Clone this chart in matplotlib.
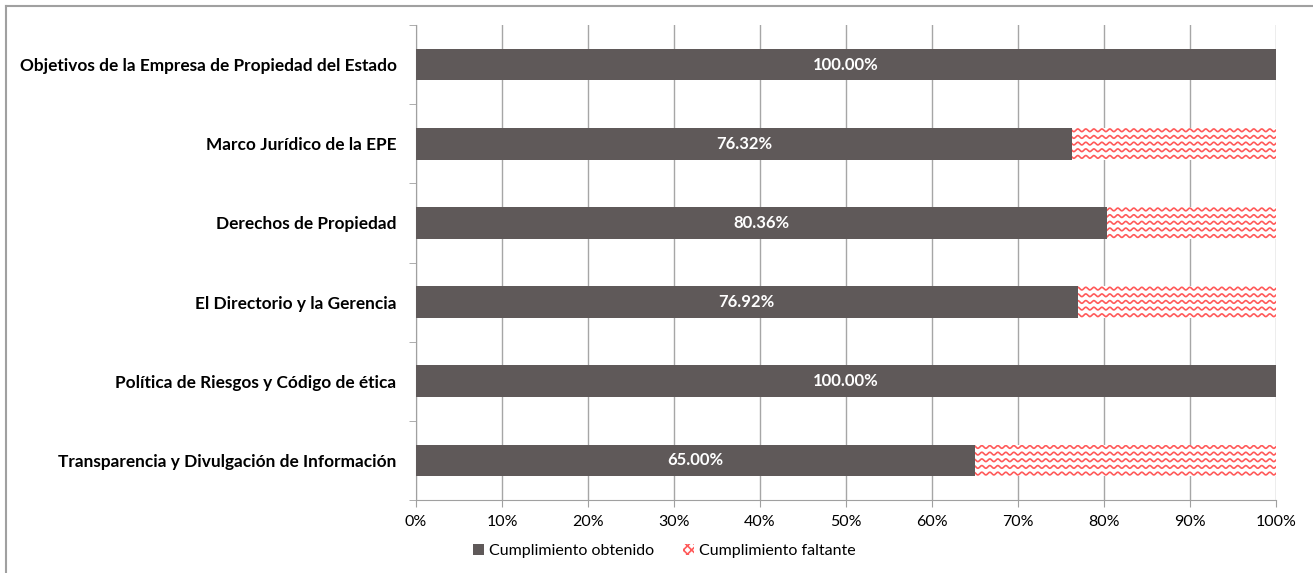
import numpy as np
import matplotlib.pyplot as plt
from matplotlib.lines import Line2D
from matplotlib.patches import Patch

# -------------------------------
# Data
# -------------------------------
categories = [
    'Objetivos de la Empresa de Propiedad del Estado',
    'Marco Jurídico de la EPE',
    'Derechos de Propiedad',
    'El Directorio y la Gerencia',
    'Política de Riesgos y Código de ética',
    'Transparencia y Divulgación de Información',
]
obtenido = [1.0, 0.7632, 0.8036, 0.7692, 1.0, 0.65]
faltante = [1 - v for v in obtenido]
labels = ['100.00%', '76.32%', '80.36%', '76.92%', '100.00%', '65.00%']

dark = '#5f5959'
red = '#ff5a5a'

plt.rcParams['font.family'] = ['Lato', 'DejaVu Sans']
plt.rcParams['hatch.color'] = red
plt.rcParams['hatch.linewidth'] = 1.2

fig = plt.figure(figsize=(13.13, 5.73), dpi=100)
ax = fig.add_axes([416 / 1313, 1 - 500 / 573, 860 / 1313, 475 / 573])

y = np.arange(len(categories))
bars1 = ax.barh(y, obtenido, height=0.4, color=dark, zorder=3)
bars2 = ax.barh(y, faltante, left=obtenido, height=0.4, color='white', zorder=3)

# wavy red pattern inside the missing part
xs = np.linspace(0, 1, 3000)
for b in bars2:
    if b.get_width() <= 0:
        continue
    y0 = b.get_y()
    for k in range(5):
        yy = y0 + 0.03 + k * 0.084 + 0.017 * np.sin(2 * np.pi * xs / 0.0093)
        ln, = ax.plot(xs, yy, color=red, lw=1.2, zorder=4)
        ln.set_clip_path(b)

for b, t in zip(bars1, labels):
    ax.text(b.get_width() / 2, b.get_y() + b.get_height() / 2, t,
            ha='center', va='center', color='white', fontsize=12,
            fontweight='bold', zorder=5)

ax.set_xlim(0, 1)
ax.set_ylim(len(categories) - 0.5, -0.5)
ticks = np.arange(0, 1.01, 0.1)
ax.set_xticks(ticks)
ax.set_xticklabels([f'{int(round(v * 100))}%' for v in ticks], fontsize=11.5)
ax.set_yticks(y)
ax.set_yticklabels(categories, fontsize=12.4, fontweight='bold')
ax.tick_params(axis='y', length=0, pad=14)
ax.set_yticks(np.arange(-0.5, len(categories), 1), minor=True)
ax.tick_params(axis='y', which='minor', length=5, color='#a0a0a0')
ax.tick_params(axis='x', length=5, color='#a0a0a0', pad=6)
ax.grid(axis='x', color='#a6a6a6', lw=1, zorder=0)
for s in ['top', 'right']:
    ax.spines[s].set_visible(False)
for s in ['left', 'bottom']:
    ax.spines[s].set_color('#a0a0a0')

handles = [Patch(facecolor=dark, label='Cumplimiento obtenido'),
           Patch(facecolor='white', edgecolor=red, lw=0, hatch='xxxx',
                 label='Cumplimiento faltante')]
fig.legend(handles=handles, loc='center', bbox_to_anchor=(664 / 1313, 1 - 551 / 573),
           ncol=2, frameon=False, fontsize=11.5, handlelength=0.7, handleheight=0.7,
           columnspacing=1.8, handletextpad=0.3)

# outer frame (top and left only visible)
fig.add_artist(Line2D([6 / 1313, 6 / 1313], [0, 1 - 6 / 573], transform=fig.transFigure, color='#a0a0a0', lw=1.5))
fig.add_artist(Line2D([6 / 1313, 1], [1 - 6 / 573, 1 - 6 / 573], transform=fig.transFigure, color='#a0a0a0', lw=1.5))

fig.savefig('out.png', dpi=100)
